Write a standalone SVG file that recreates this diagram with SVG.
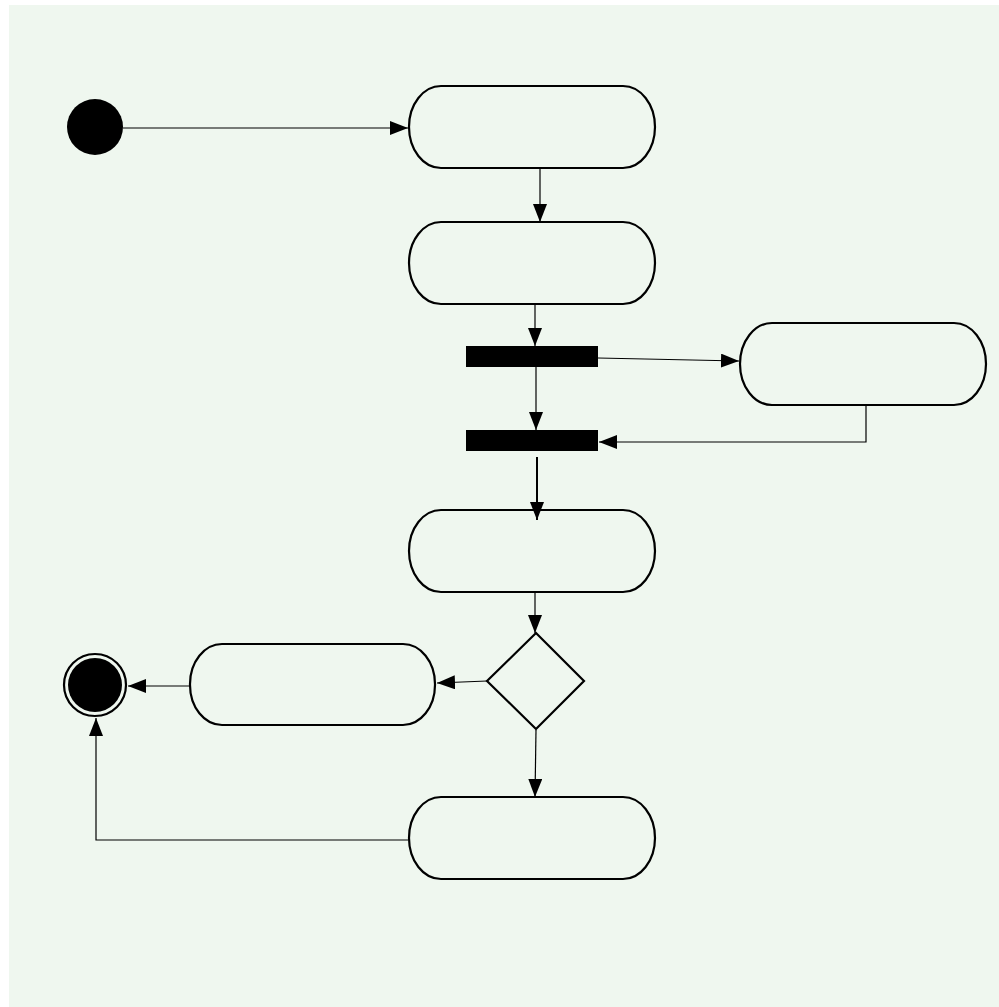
<svg xmlns="http://www.w3.org/2000/svg" width="999" height="1007" viewBox="0 0 999 1007">
<style>
.act{fill:#eff7ef;stroke:#000;stroke-width:2.2}
.bar{fill:#000}
.conn{fill:none;stroke:#000;stroke-width:1.2}
</style>
<defs>
<marker id="arr" markerUnits="userSpaceOnUse" markerWidth="18" markerHeight="14" refX="18" refY="7" orient="auto">
<path d="M0,0 L18,7 L0,14 z" fill="#000"/>
</marker>
</defs>
<rect x="0" y="0" width="999" height="1007" fill="#fff"/>
<rect x="9" y="5" width="990" height="1002" fill="#eff7ef"/>
<g id="start"><circle cx="95" cy="127" r="28" fill="#000"/></g>
<g id="act1"><rect class="act" x="409" y="86" width="246" height="82" rx="32" ry="41"/></g>
<g id="act2"><rect class="act" x="409" y="222" width="246" height="82" rx="32" ry="41"/></g>
<g id="fork"><rect class="bar" x="466" y="346" width="132" height="21"/></g>
<g id="act-side"><rect class="act" x="740" y="323" width="246" height="82" rx="32" ry="41"/></g>
<g id="join"><rect class="bar" x="466" y="430" width="132" height="21"/></g>
<g id="act3"><rect class="act" x="409" y="510" width="246" height="82" rx="32" ry="41"/></g>
<g id="decision"><polygon class="act" points="536,633 584,681 536,729 487,681"/></g>
<g id="act-left"><rect class="act" x="190" y="644" width="245" height="81" rx="32" ry="40"/></g>
<g id="act-bottom"><rect class="act" x="409" y="797" width="246" height="82" rx="32" ry="41"/></g>
<g id="end">
<circle cx="95" cy="685" r="31" fill="none" stroke="#000" stroke-width="2.2"/>
<circle cx="95" cy="685" r="27" fill="#000"/>
</g>
<g id="connectors">
<line class="conn" x1="123" y1="128" x2="408" y2="128" marker-end="url(#arr)"/>
<line class="conn" x1="540" y1="169" x2="540" y2="222" marker-end="url(#arr)"/>
<line class="conn" x1="535" y1="305" x2="535" y2="346" marker-end="url(#arr)"/>
<line class="conn" x1="598" y1="358" x2="739" y2="361" marker-end="url(#arr)"/>
<line class="conn" x1="536" y1="367" x2="536" y2="430" marker-end="url(#arr)"/>
<polyline class="conn" points="866,406 866,442 599,442" marker-end="url(#arr)"/>
<line class="conn" style="stroke-width:2" x1="537" y1="457" x2="537" y2="520" marker-end="url(#arr)"/>
<line class="conn" x1="535" y1="593" x2="535" y2="633" marker-end="url(#arr)"/>
<line class="conn" x1="487" y1="681" x2="437" y2="683" marker-end="url(#arr)"/>
<line class="conn" x1="189" y1="686" x2="128" y2="686" marker-end="url(#arr)"/>
<line class="conn" x1="536" y1="730" x2="535" y2="797" marker-end="url(#arr)"/>
<polyline class="conn" points="408,840 96,840 96,718" marker-end="url(#arr)"/>
</g>
</svg>
